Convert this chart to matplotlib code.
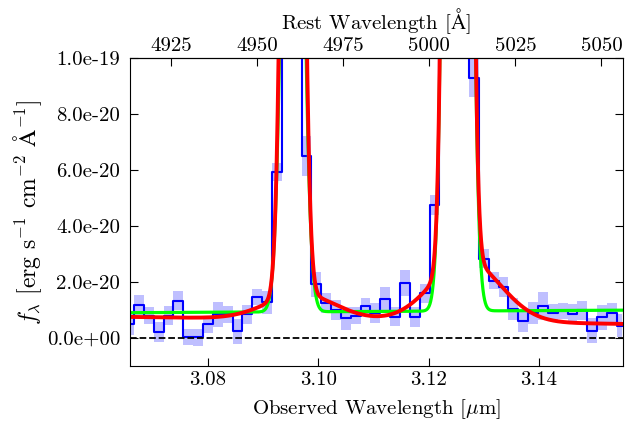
import numpy as np
import matplotlib
matplotlib.use("Agg")
import matplotlib.pyplot as plt
from matplotlib.ticker import FormatStrFormatter

plt.rcParams['font.family'] = 'serif'
plt.rcParams['font.serif'] = ['cmr10']
plt.rcParams['mathtext.fontset'] = 'cm'
plt.rcParams['axes.unicode_minus'] = False
plt.rcParams['font.size'] = 15

# redshift and [OIII] rest wavelengths (Angstrom)
z = 5.2403
line_rest = [4960.295, 5008.240]

# binned spectrum: bin centres (um), flux and error (1e-21 erg/s/cm2/A)
wave = [3.06567, 3.06746, 3.06925, 3.07104, 3.07282, 3.07461, 3.07640, 3.07819,
        3.07997, 3.08176, 3.08355, 3.08534, 3.08712, 3.08891, 3.09070, 3.09249,
        3.09427, 3.09606, 3.09785, 3.09964, 3.10142, 3.10321, 3.10500, 3.10679,
        3.10857, 3.11036, 3.11215, 3.11394, 3.11572, 3.11751, 3.11930, 3.12109,
        3.12287, 3.12466, 3.12645, 3.12824, 3.13002, 3.13181, 3.13360, 3.13539,
        3.13717, 3.13896, 3.14075, 3.14254, 3.14432, 3.14611, 3.14790, 3.14969,
        3.15147, 3.15326, 3.15505]
flux = [4.9, 11.7, 8.0, 2.2, 8.0, 13.3, 0.3, 0.2, 4.8, 8.4, 8.4, 2.4, 8.4, 14.6,
        12.7, 59.3, 250.0, 240.0, 65.0, 19.2, 12.5, 10.0, 7.0, 8.0, 11.3, 8.8,
        13.8, 7.6, 19.6, 7.4, 15.9, 47.4, 400.0, 900.0, 700.0, 92.9, 28.3, 20.5,
        18.1, 10.3, 6.0, 8.8, 11.4, 9.0, 9.6, 8.6, 9.8, 2.6, 7.4, 8.8, 4.4]
err = [3.8, 3.6, 3.0, 3.5, 3.5, 3.5, 3.0, 3.0, 3.0, 4.5, 3.0, 4.5, 3.5, 3.0,
       4.0, 3.3, 8.0, 8.0, 7.0, 4.5, 3.5, 3.5, 4.0, 3.0, 3.0, 3.5, 4.5, 3.5,
       4.5, 3.5, 3.5, 3.5, 8.0, 8.0, 8.0, 7.0, 3.5, 3.0, 3.5, 4.0, 4.0, 4.0,
       5.0, 3.0, 3.0, 3.5, 3.5, 4.5, 4.5, 3.5, 4.0]

# model parameters (flux in 1e-21, widths in um)
green_cont = [9.0, 9.9]
green_amp = [370.0, 1100.0]
green_sigma = 0.00145
red_cont = [7.5, 5.0]
red_narrow_amp = [620.0, 1850.0]
red_narrow_sigma = 0.0013
red_broad_amp = [9.0, 22.0]
red_broad_sigma = 0.0062
red_broad_shift = 0.0015

xlim = (3.0658, 3.1552)


def gauss(x, amp, cen, sig):
    return amp * np.exp(-0.5 * ((x - cen) / sig) ** 2)


wave = np.array(wave)
flux = np.array(flux) * 1e-21
err = np.array(err) * 1e-21
line_obs = [r * (1 + z) / 1e4 for r in line_rest]

x = np.linspace(xlim[0], xlim[1], 3000)
frac = (x - xlim[0]) / (xlim[1] - xlim[0])
green = green_cont[0] + (green_cont[1] - green_cont[0]) * frac
red = red_cont[0] + (red_cont[1] - red_cont[0]) * frac
for i in range(2):
    green = green + gauss(x, green_amp[i], line_obs[i], green_sigma)
    red = red + gauss(x, red_narrow_amp[i], line_obs[i], red_narrow_sigma)
    red = red + gauss(x, red_broad_amp[i], line_obs[i] + red_broad_shift, red_broad_sigma)

fig = plt.figure(figsize=(6.36, 4.23), dpi=100)
ax = fig.add_axes([0.204, 0.135, 0.775, 0.728])

ax.fill_between(wave, flux - err, flux + err, step='mid', color='blue', alpha=0.25, lw=0)
ax.step(wave, flux, where='mid', color='blue', lw=1.5)
ax.plot(x, green * 1e-21, color='lime', lw=2.3)
ax.plot(x, red * 1e-21, color='red', lw=2.8)
ax.axhline(0, color='black', ls='--', lw=1.3)

ax.set_xlim(xlim)
ax.set_ylim(-1e-20, 1e-19)
ax.set_xticks([3.08, 3.10, 3.12, 3.14])
ax.xaxis.set_major_formatter(FormatStrFormatter('%.2f'))
ax.set_yticks([0, 2e-20, 4e-20, 6e-20, 8e-20, 1e-19])
ax.yaxis.set_major_formatter(FormatStrFormatter('%.1e'))
ax.tick_params(direction='in', length=6, right=True, top=False)
ax.tick_params(axis='y', pad=7)
ax.set_xlabel(r'Observed Wavelength [$\mu$m]', labelpad=6)
ax.set_ylabel(r'$f_\lambda$ [erg s$^{-1}$ cm$^{-2}$ $\mathrm{\AA}^{-1}$]', fontsize=17, labelpad=2)

top = ax.secondary_xaxis('top', functions=(lambda w: w * 1e4 / (1 + z),
                                           lambda r: r * (1 + z) / 1e4))
top.set_xticks([4925, 4950, 4975, 5000, 5025, 5050])
top.tick_params(direction='in', length=6, pad=2)
top.set_xlabel(r'Rest Wavelength [$\mathrm{\AA}$]', labelpad=6)

fig.savefig('out.png', dpi=100)
